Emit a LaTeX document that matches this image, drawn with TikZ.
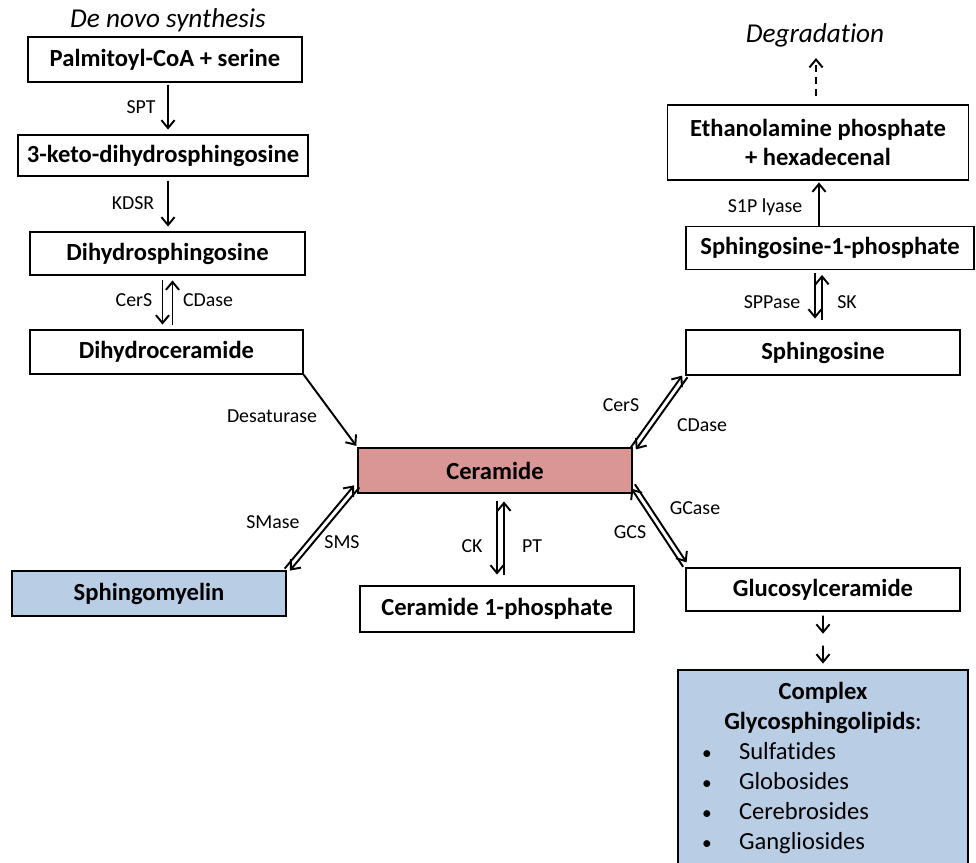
\documentclass[tikz,border=0pt]{standalone}
\usepackage{fontspec}
\setmainfont{Carlito}[Ligatures=NoCommon]
\usepackage{tikz}
\usetikzlibrary{calc,arrows.meta,positioning}
\definecolor{cerpink}{RGB}{217,150,148}
\definecolor{gslblue}{RGB}{185,205,229}
% two opposite arrows side by side, between two points
\newcommand{\revpair}[2]{%
  \draw[rx] ($(#1)!1.5pt!90:(#2)$) -- ($(#2)!1.5pt!-90:(#1)$);
  \draw[rx] ($(#2)!1.5pt!90:(#1)$) -- ($(#1)!1.5pt!-90:(#2)$);}
\newcommand{\gslitem}[1]{\makebox[4.84cm][l]{\makebox[0.74cm][l]{\fontsize{11}{13}\selectfont\textbullet}#1}}

\begin{document}
\begin{tikzpicture}[x=0.02cm,y=-0.02cm]
    \tikzset{box/.style={draw,line width=0.8pt,inner sep=2pt,minimum width=5.48cm,minimum height=0.9cm,font=\fontsize{14}{17}\selectfont\bfseries,align=center},
      enz/.style={font=\fontsize{11.3}{13}\selectfont},
      head/.style={font=\fontsize{15.5}{18}\selectfont\itshape},
      rx/.style={line width=1.1pt,-{Straight Barb[length=4.5pt,width=7.5pt]},shorten >=1pt}}
    \clip (0,0) rectangle (976,862);
    % de novo branch
    \node[head] (denovo) at (168,20) {De novo synthesis};
    \node[box] (palm) at (165,59.5) {Palmitoyl-CoA + serine};
    \node[box,minimum width=5.8cm,minimum height=0.82cm] (keto) at (163,155.5) {3-keto-dihydrosphingosine};
    \node[box,minimum width=5.5cm,minimum height=0.86cm] (dhs) at (167.5,253.5) {Dihydrosphingosine};
    \node[box,minimum width=5.46cm,minimum height=0.88cm] (dhc) at (166.5,352) {Dihydroceramide};
    % centre
    \node[box,fill=cerpink] (cer) at (495,470.5) {Ceramide};
    \node[box,fill=gslblue] (sm) at (149,593.5) {Sphingomyelin};
    \node[box,minimum height=0.92cm] (c1p) at (497,609) {Ceramide 1-phosphate};
    % salvage / degradation branch
    \node[head] (degr) at (815,35) {Degradation};
    \node[box,minimum width=6.02cm,minimum height=1.5cm] (eth) at (818,142.5) {Ethanolamine phosphate\\+ hexadecenal};
    \node[box,minimum width=5.76cm,minimum height=0.86cm] (s1p) at (830,248) {Sphingosine-1-phosphate};
    \node[box] (sph) at (823,352.5) {Sphingosine};
    \node[box,minimum height=0.86cm] (glc) at (823,589.5) {Glucosylceramide};
    \node[box,fill=gslblue,minimum width=5.8cm,minimum height=3.92cm] (gsl) at (823,768)
      {Complex\\Glycosphingolipids\mdseries:\\ \mdseries\gslitem{Sulfatides}\\ \mdseries\gslitem{Globosides}\\
       \mdseries\gslitem{Cerebrosides}\\ \mdseries\gslitem{Gangliosides}};

    % reactions, left column
    \draw[rx] ($(palm.south)+(3,2)$) -- ($(palm.south |- keto.north)+(3,-3)$);
    \node[enz] (spt) at (141,107) {SPT};
    \draw[rx] ($(keto.south)+(5,4)$) -- ($(keto.south |- dhs.north)+(5,-3)$);
    \node[enz] (kdsr) at (133,203) {KDSR};
    \draw[rx] ($(dhs.south)+(-5,4)$) -- ($(dhs.south |- dhc.north)+(-5,-3)$);
    \draw[rx] ($(dhs.south |- dhc.north)+(5,-4)$) -- ($(dhs.south)+(5,3)$);
    \node[enz] (cers1) at (134,300) {CerS};
    \node[enz] (cdase1) at (208,300) {CDase};
    \draw[rx] (dhc.south east) -- (cer.north west);
    \node[enz] (desat) at (272,416) {Desaturase};
    \revpair{sm.north east}{$(cer.south west)+(0,-8)$}
    \node[enz] (smase) at (273,522) {SMase};
    \node[enz] (sms) at (342,542) {SMS};
    % ceramide <-> C1P
    \draw[rx] ($(cer.south)+(2,7)$) -- ($(cer.south |- c1p.north)+(2,-9)$);
    \draw[rx] ($(cer.south |- c1p.north)+(9,-10)$) -- ($(cer.south)+(9,6)$);
    \node[enz] (ck) at (472,546) {CK};
    \node[enz] (pt) at (532,546) {PT};
    % right column
    \revpair{sph.south west}{$(cer.north east)+(0,2)$}
    \node[enz] (cers2) at (621,405) {CerS};
    \node[enz] (cdase2) at (702,425) {CDase};
    \revpair{$(cer.south east)+(0,-8)$}{$(glc.north west)+(0,-2)$}
    \node[enz] (gcase) at (695,508) {GCase};
    \node[enz] (gcs) at (630,532) {GCS};
    \draw[rx] ($(s1p.south)+(-15,3)$) -- ($(s1p.south |- sph.north)+(-15,-9)$);
    \draw[rx] ($(s1p.south |- sph.north)+(-8,-9)$) -- ($(s1p.south)+(-8,3)$);
    \node[enz] (sppase) at (772,302) {SPPase};
    \node[enz] (sk) at (847,302) {SK};
    \draw[rx] ($(s1p.north)+(-11,0)$) -- ($(s1p.north |- eth.south)+(-11,0)$);
    \node[enz] (lyase) at (765,207) {S1P lyase};
    \draw[rx,dash pattern=on 4pt off 3pt] ($(eth.north)+(-2,-8)$) -- ($(eth.north)+(-2,-48)$);
    \coordinate (gmid) at ($(glc.south)!0.5!(gsl.north)$);
    \draw[rx] ($(glc.south)+(0,4)$) -- ($(gmid)+(0,-5)$);
    \draw[rx] ($(gmid)+(0,5)$) -- ($(gsl.north)+(0,-4)$);
\end{tikzpicture}
\end{document}
